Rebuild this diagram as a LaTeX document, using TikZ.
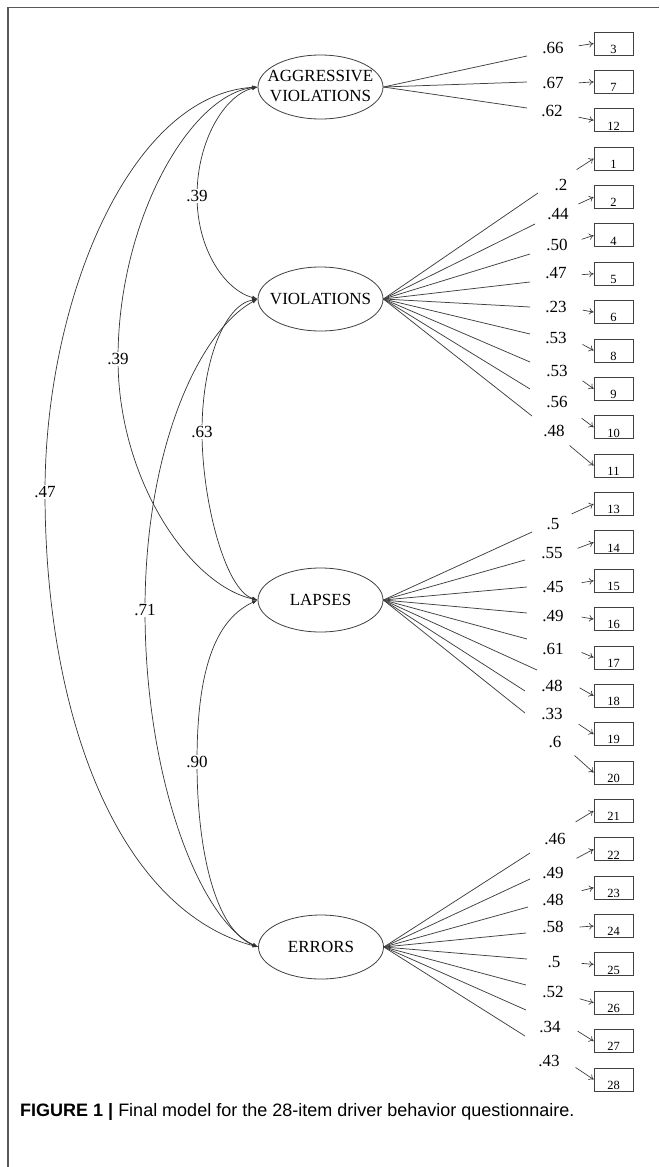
\documentclass[tikz,border=0pt]{standalone}
\usepackage{fontspec}
\setmainfont{Liberation Serif}
\newfontfamily\capfont{Liberation Sans}
\usetikzlibrary{shapes.geometric,arrows.meta}
\begin{document}
\begin{tikzpicture}[x=1pt,y=-1pt,
  lv/.style={ellipse,draw=black!75,line width=0.8pt,minimum width=125pt,minimum height=64pt,inner sep=0pt,font=\fontsize{17}{20}\selectfont},
  itembox/.style={draw=black!75,line width=0.8pt,minimum width=39pt,minimum height=23pt,inner sep=1pt,font=\fontsize{12.5}{14}\selectfont,text height=19.6pt,text depth=0pt},
  ld/.style={draw=black!75,line width=0.75pt},
  wt/.style={font=\fontsize{17}{20}\selectfont,inner sep=0pt},
  resid/.style={draw=black!80,line width=0.65pt,-{To[length=4.5pt,width=6.5pt]}},
  cov/.style={draw=black!80,line width=0.7pt,{Latex[length=5.5pt,width=4pt]}-{Latex[length=5.5pt,width=4pt]}},
  cl/.style={fill=white,inner sep=1.5pt,font=\fontsize{17}{20}\selectfont}
]
\useasboundingbox (0,0) rectangle (659,1167);
\fill[white] (0,0) rectangle (659,1167);
% frame
\draw[black!65,line width=1.3pt] (8,1167) -- (8,7.5) -- (659,7.5);

% latent variables
\node[lv] (agg) at (320.5,87) {\makebox[0pt]{\begin{tabular}{@{}c@{}}AGGRESSIVE\\VIOLATIONS\end{tabular}}};
\node[lv] (viol) at (320.5,299) {\makebox[0pt]{VIOLATIONS}};
\node[lv] (lap) at (320.5,600) {\makebox[0pt]{LAPSES}};
\node[lv] (errs) at (321,947) {\makebox[0pt]{ERRORS}};

% item boxes
\foreach \n [count=\k from 0] in {3,7,12,1,2,4,5,6,8,9,10,11,13,14,15,16,17,18,19,20,21,22,23,24,25,26,27,28}
  \node[itembox] (b\n) at (613.5,43.5+38.37*\k) {\n};

% residual arrows
\foreach \n/\dx/\dy in {3/-15/2.3,7/-15/1,12/-15/-3,1/-17/11,2/-15/7,4/-12/4,5/-12/1,6/-11/-2,8/-11/-6,9/-11/-8,10/-12/-9,11/-24/-20,13/-22/10,14/-16/6,15/-12/2,16/-12/-2,17/-12/-5,18/-14/-8,19/-15/-10,20/-19/-17,21/-18/11,22/-17/9,23/-12/3,24/-14/1,25/-12/-1,26/-14/-4,27/-16/-10,28/-18/-12}
{
  \coordinate (e\n) at ([shift={(\dx,\dy)}]b\n.west);
  \draw[resid] (e\n) -- (b\n.west);
}

% loadings
\foreach \f/\ex/\ey/\lx/\ly/\t [count=\i] in {
  agg/527/56/553/48/.66, agg/527/82/553/83/.67, agg/527/108/552/111/.62,
  viol/538/193/561/185/.2, viol/535/224/558/214/.44, viol/530/254/557/245/.50,
  viol/530/282/556/273/.47, viol/530/307/556/307/.23, viol/530/334/556/338/.53,
  viol/530/362/557/371/.53, viol/530/389/557/402/.56, viol/532/416/554/431/.48,
  lap/532/532/553/524/.5, lap/525/560/552/553/.55, lap/527/587/553/587/.45,
  lap/527/613/553/616/.49, lap/527/639/553/649/.61, lap/537/670/552/686/.48,
  lap/525/691/552/714/.33, lap/525/713/555/742/.6,
  errs/530/853/555/839/.46, errs/530/879/553/873/.49, errs/528/907/553/900/.48,
  errs/526/933/553/927/.58, errs/527/959/554/962/.5, errs/526/985/553/992/.52,
  errs/526/1010/550/1027/.34, errs/525/1036/549/1061/.43}
{
  \coordinate (le\i) at (\ex,\ey);
  \draw[ld] (\f.east) -- (le\i);
  \node[wt] (w\i) at (\lx,\ly) {\t};
}

% covariances
\draw[cov] (agg.west) .. controls (225,95) and (197,140) .. (197,196) node[cl] (c1) {.39}
  .. controls (197,250) and (225,290) .. (viol.west);
\draw[cov] (agg.west) .. controls (190,95) and (118,220) .. (118,359) node[cl] (c2) {.39}
  .. controls (118,480) and (190,585) .. (lap.west);
\draw[cov] (agg.west) .. controls (130,95) and (45,300) .. (45,492) node[cl] (c3) {.47}
  .. controls (45,720) and (120,910) .. (errs.west);
\draw[cov] (viol.west) .. controls (225,305) and (202,360) .. (202,432) node[cl] (c4) {.63}
  .. controls (202,500) and (225,590) .. (lap.west);
\draw[cov] (viol.west) .. controls (198,332) and (145,450) .. (145,610) node[cl] (c5) {.71}
  .. controls (145,780) and (200,920) .. (errs.west);
\draw[cov] (lap.west) .. controls (215,620) and (197,670) .. (197,762) node[cl] (c6) {.90}
  .. controls (197,850) and (215,930) .. (errs.west);

% caption
\node[anchor=west,inner sep=0pt,font=\capfont\fontsize{18}{21}\selectfont] (cap) at (20,1112)
  {\textbf{FIGURE 1 |} Final model for the 28-item driver behavior questionnaire.};
\end{tikzpicture}
\end{document}
